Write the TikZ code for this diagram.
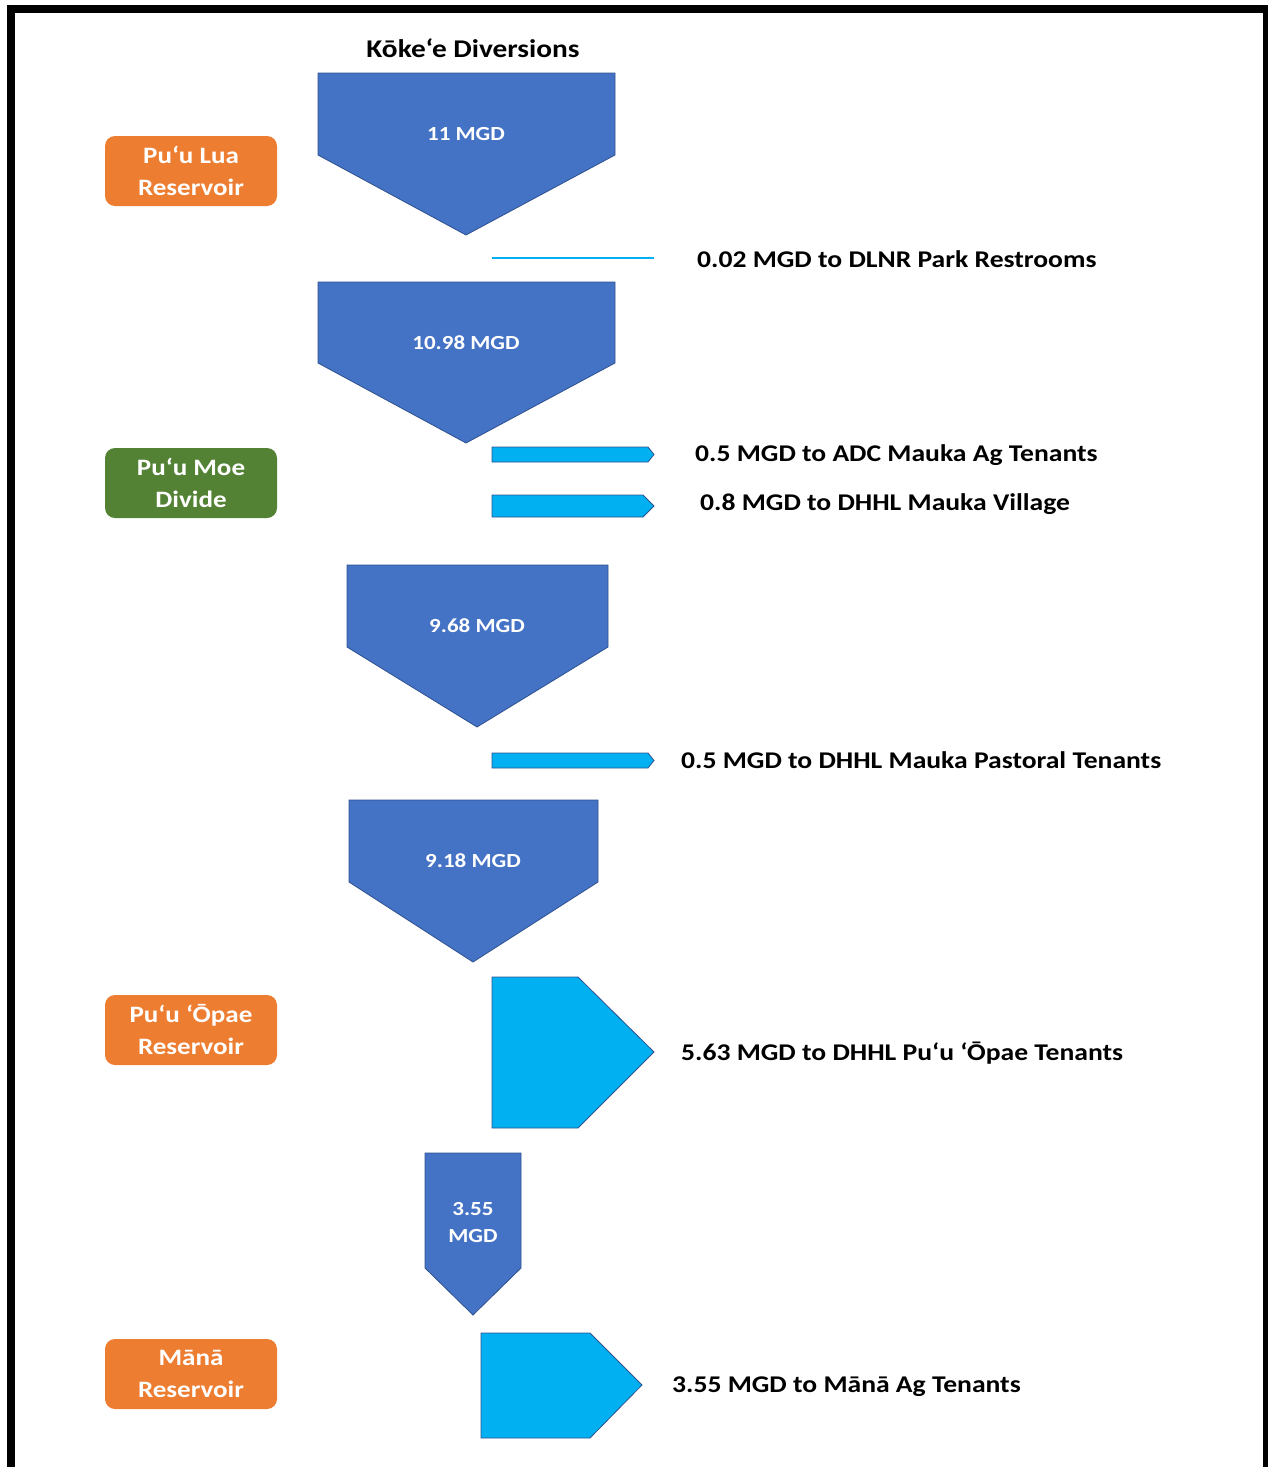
\documentclass[tikz,border=0pt]{standalone}
\usepackage{fontspec}
\setmainfont[FakeStretch=1.15]{Carlito}
\definecolor{mblue}{HTML}{4472C4}
\definecolor{edgeblue}{HTML}{2F528F}
\definecolor{lblue}{HTML}{00B0F0}
\definecolor{orbox}{HTML}{ED7D31}
\definecolor{grbox}{HTML}{548235}
\begin{document}
\begin{tikzpicture}[x=1pt,y=-1pt,
  bigarrow/.style={fill=mblue, draw=edgeblue, line width=0.8pt, line join=miter},
  sidearrow/.style={fill=lblue, draw=edgeblue, line width=0.8pt, line join=miter},
  arrowtext/.style={text=white, font=\bfseries\fontsize{20}{27}\selectfont, align=center, inner sep=0pt},
  flowlabel/.style={anchor=west, inner sep=0pt, font=\bfseries\fontsize{24}{28}\selectfont},
  placebox/.style={rounded corners=10pt, minimum width=172pt, minimum height=70pt, text=white, align=center, inner sep=0pt, font=\bfseries\fontsize{23.5}{32}\selectfont},
]
\useasboundingbox (0,0) rectangle (1268,1467);
% frame
\draw[line width=8pt] (11,1475) -- (11,9) -- (1267,9) -- (1267,1475);

% title
\node[font=\bfseries\fontsize{25.5}{28}\selectfont, inner sep=0pt] (title) at (473,48) {Kōke‘e Diversions};

% main down arrows
\path[bigarrow] (318,73) -- (615,73) -- (615,155) -- (466,235) -- (318,155) -- cycle;
\node[arrowtext] (a1) at (466,134) {11 MGD};
\path[bigarrow] (318,282) -- (615,282) -- (615,363) -- (466,443) -- (318,363) -- cycle;
\node[arrowtext] (a2) at (466,343) {10.98 MGD};
\path[bigarrow] (347,565) -- (608,565) -- (608,647) -- (477,727) -- (347,647) -- cycle;
\node[arrowtext] (a3) at (477,626) {9.68 MGD};
\path[bigarrow] (349,800) -- (598,800) -- (598,882) -- (473,962) -- (349,882) -- cycle;
\node[arrowtext] (a4) at (473,861) {9.18 MGD};
\path[bigarrow] (425,1153) -- (521,1153) -- (521,1268) -- (473,1315) -- (425,1268) -- cycle;
\node[arrowtext] (a5) at (473,1222) {3.55\\MGD};

% side flows
\draw[lblue, line width=2.5pt] (492,258) -- (654,258);
\path[sidearrow] (492,447) -- (648,447) -- (654,454.5) -- (648,462) -- (492,462) -- cycle;
\path[sidearrow] (492,495) -- (643,495) -- (654,506) -- (643,517) -- (492,517) -- cycle;
\path[sidearrow] (492,753) -- (648,753) -- (654,760.5) -- (648,768) -- (492,768) -- cycle;
\path[sidearrow] (492,977) -- (578,977) -- (654,1052) -- (578,1128) -- (492,1128) -- cycle;
\path[sidearrow] (481,1333) -- (590,1333) -- (642,1385) -- (590,1438) -- (481,1438) -- cycle;

% flow labels
\node[flowlabel] (l1) at (697,259) {0.02 MGD to DLNR Park Restrooms};
\node[flowlabel] (l2) at (695,455) {0.5 MGD to ADC Mauka Ag Tenants};
\node[flowlabel] (l3) at (700,504) {0.8 MGD to DHHL Mauka Village};
\node[flowlabel] (l4) at (681,760) {0.5 MGD to DHHL Mauka Pastoral Tenants};
\node[flowlabel] (l5) at (681,1053) {5.63 MGD to DHHL Pu‘u ‘Ōpae Tenants};
\node[flowlabel] (l6) at (672,1387) {3.55 MGD to Mānā Ag Tenants};

% place boxes
\node[placebox, fill=orbox] (lua) at (191,171) {Pu‘u Lua\\Reservoir};
\node[placebox, fill=grbox] (moe) at (191,483) {Pu‘u Moe\\Divide};
\node[placebox, fill=orbox] (opae) at (191,1030) {Pu‘u ‘Ōpae\\Reservoir};
\node[placebox, fill=orbox] (mana) at (191,1374) {Mānā\\Reservoir};
\end{tikzpicture}
\end{document}
